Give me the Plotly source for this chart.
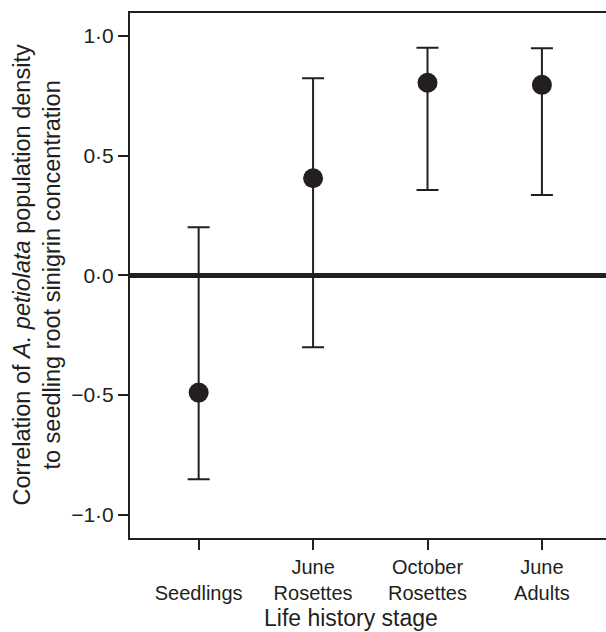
import plotly.graph_objects as go

# Data
stages = ["Seedlings", "June Rosettes", "October Rosettes", "June Adults"]
stage_labels = [" <br>Seedlings", "June<br>Rosettes", "October<br>Rosettes", "June<br>Adults"]
correlation = [-0.49, 0.405, 0.804, 0.795]
upper_ci = [0.200, 0.823, 0.950, 0.948]
lower_ci = [-0.852, -0.301, 0.356, 0.335]

y_tick_vals = [-1.0, -0.5, 0.0, 0.5, 1.0]
y_tick_text = ["\u22121\u00b70", "\u22120\u00b75", "0\u00b70", "0\u00b75", "1\u00b70"]

INK = "#231f20"
FONT = "Liberation Sans, Arial, Helvetica, sans-serif"

x_pos = list(range(len(stages)))
err_plus = [u - m for u, m in zip(upper_ci, correlation)]
err_minus = [m - l for m, l in zip(correlation, lower_ci)]

fig = go.Figure()
fig.add_trace(go.Scatter(
    x=x_pos, y=correlation, mode="markers",
    marker=dict(size=20, color=INK, line=dict(width=0)),
    error_y=dict(type="data", symmetric=False, array=err_plus, arrayminus=err_minus,
                 color=INK, thickness=2, width=11),
    showlegend=False, hoverinfo="skip",
))

fig.update_layout(
    width=606, height=632,
    margin=dict(l=130, r=0, t=13, b=94),
    paper_bgcolor="white", plot_bgcolor="white",
    font=dict(family=FONT, color=INK, size=21),
    xaxis=dict(
        range=[-0.6, 3.56], tickvals=x_pos, ticktext=stage_labels,
        showline=True, linecolor=INK, linewidth=2, mirror=True,
        ticks="outside", ticklen=10, tickwidth=2, tickcolor=INK,
        showgrid=False, zeroline=False,
        tickfont=dict(size=20, family=FONT, color=INK),
    ),
    yaxis=dict(
        range=[-1.097, 1.095], tickvals=y_tick_vals, ticktext=y_tick_text,
        showline=True, linecolor=INK, linewidth=2, mirror=False,
        ticks="outside", ticklen=10, tickwidth=2, tickcolor=INK,
        showgrid=False, zeroline=True, zerolinecolor=INK, zerolinewidth=5,
        tickfont=dict(size=21, family=FONT, color=INK),
    ),
    annotations=[
        dict(text="Life history stage", xref="paper", yref="paper",
             x=(351 - 130) / 476, y=-(618 - 538) / 525, xanchor="center", yanchor="middle",
             showarrow=False, font=dict(size=23, family=FONT, color=INK)),
        dict(text="Correlation of <i>A. petiolata</i> population density<br>to seedling root sinigrin concentration",
             xref="paper", yref="paper", x=(37 - 130) / 476, y=0.5,
             xanchor="center", yanchor="middle", textangle=-90,
             showarrow=False, font=dict(size=23.5, family=FONT, color=INK)),
    ],
)

fig.write_html("out.html", config={"displayModeBar": False},
               post_script="document.body.style.margin='0';")
